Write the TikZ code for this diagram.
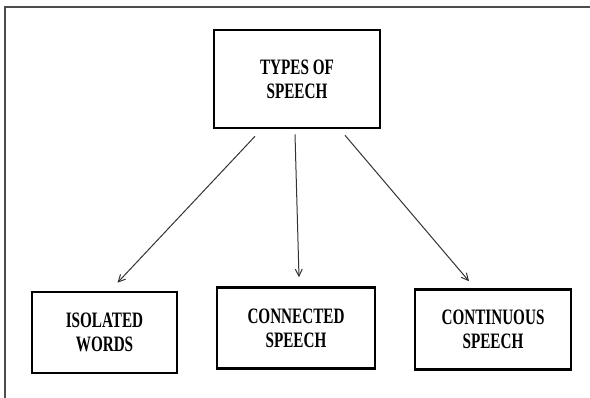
\documentclass[tikz,border=0pt]{standalone}
\usepackage{fontspec}
\setmainfont{Liberation Serif}[FakeStretch=0.69]
\usetikzlibrary{arrows.meta,calc}

\tikzset{
  box/.style={draw,line width=2.6pt,align=center,inner sep=0pt,
    font=\bfseries\fontsize{22}{24}\selectfont},
  arr/.style={-{Straight Barb[length=7pt,width=7pt]},line width=1pt,black!80},
}

\begin{document}
\begin{tikzpicture}[x=1pt,y=-1pt]
\useasboundingbox (0,0) rectangle (590,398);
% frame
\draw[line width=1.5pt,black!70] (5,398) -- (5,7) -- (590,7);
% boxes
\node[box,minimum width=166pt,minimum height=98pt] (types) at (297,79) {TYPES OF\\SPEECH};
\node[box,minimum width=145pt,minimum height=81pt] (iso) at (104.5,332.5) {ISOLATED\\WORDS};
\node[box,minimum width=158pt,minimum height=81pt] (con) at (296,328) {CONNECTED\\SPEECH};
\node[box,minimum width=156pt,minimum height=80pt] (cont) at (493,329.5) {CONTINUOUS\\SPEECH};
% arrow ends
\coordinate (A) at ($(types.south)+(-42,7)$);
\coordinate (B) at ($(types.south)+(-2,5)$);
\coordinate (C) at ($(types.south)+(48,6)$);
\coordinate (A') at ($(iso.north)+(13,-8)$);
\coordinate (B') at ($(con.north)+(3,-9)$);
\coordinate (C') at ($(cont.north)+(-24,-7)$);
\draw[arr] (A) -- (A');
\draw[arr] (B) -- (B');
\draw[arr] (C) -- (C');
\end{tikzpicture}
\end{document}
